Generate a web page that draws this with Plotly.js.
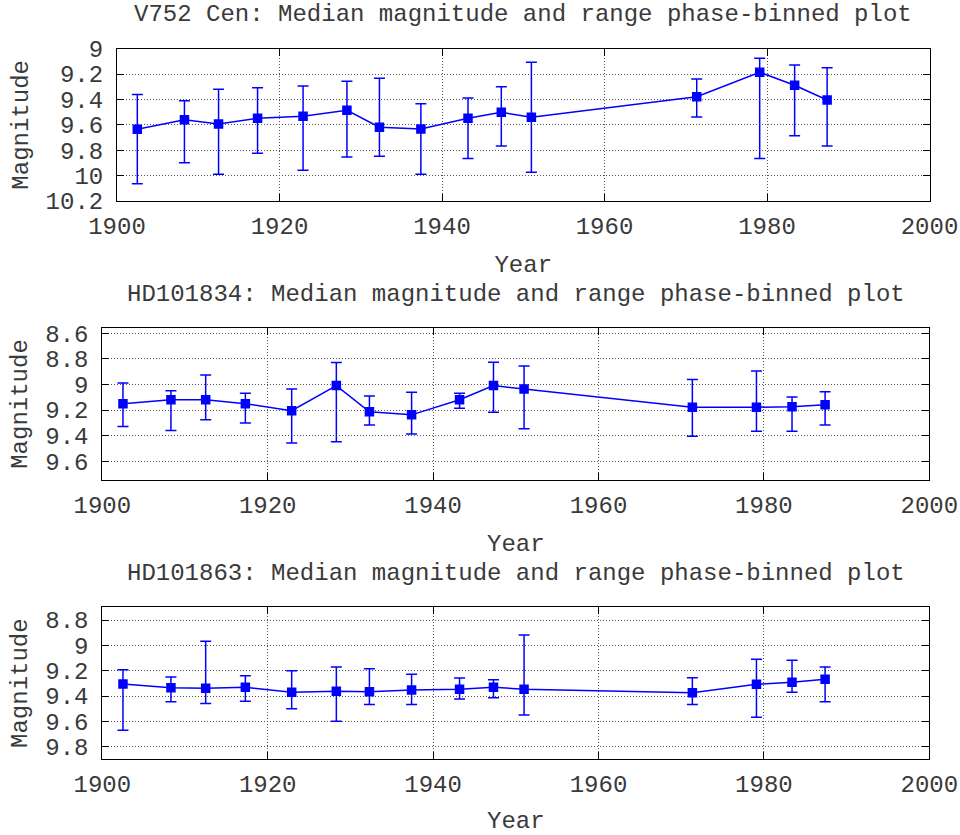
<!DOCTYPE html>
<html>
<head>
<meta charset="utf-8">
<script src="https://cdn.plot.ly/plotly-3.0.1.min.js"></script>
<style>html,body{margin:0;padding:0;background:#fff;}#chart{width:960px;height:835px;}</style>
</head>
<body>
<div id="chart"></div>
<script>
// Years (bin centres) shared by the three stars
var years = [1902.5, 1908.3, 1912.5, 1917.3, 1922.9, 1928.3, 1932.3, 1937.4, 1943.2, 1947.3, 1951.0, 1971.35, 1979.1, 1983.4, 1987.4];

// V752 Cen
var v752Median = [9.635, 9.559, 9.593, 9.548, 9.532, 9.485, 9.619, 9.632, 9.548, 9.501, 9.540, 9.378, 9.186, 9.288, 9.404];
var v752Bright = [9.360, 9.410, 9.320, 9.307, 9.294, 9.257, 9.233, 9.433, 9.388, 9.299, 9.107, 9.239, 9.076, 9.128, 9.150];
var v752Faint  = [10.065, 9.898, 9.989, 9.824, 9.957, 9.853, 9.847, 9.989, 9.866, 9.766, 9.973, 9.538, 9.866, 9.685, 9.766];

// HD101834
var hd834Median = [9.151, 9.120, 9.120, 9.151, 9.206, 9.009, 9.214, 9.238, 9.120, 9.009, 9.036, 9.178, 9.178, 9.175, 9.159];
var hd834Bright = [8.989, 9.049, 8.926, 9.068, 9.036, 8.828, 9.091, 9.062, 9.068, 8.826, 8.855, 8.962, 8.894, 9.099, 9.057];
var hd834Faint  = [9.330, 9.361, 9.277, 9.301, 9.458, 9.448, 9.317, 9.387, 9.186, 9.217, 9.346, 9.406, 9.367, 9.367, 9.317];

// HD101863
var hd863Median = [9.305, 9.334, 9.339, 9.331, 9.371, 9.363, 9.366, 9.353, 9.347, 9.331, 9.347, 9.374, 9.308, 9.292, 9.268];
var hd863Bright = [9.192, 9.250, 8.968, 9.240, 9.200, 9.171, 9.184, 9.229, 9.258, 9.271, 8.918, 9.255, 9.110, 9.118, 9.171];
var hd863Faint  = [9.671, 9.445, 9.460, 9.442, 9.500, 9.600, 9.468, 9.468, 9.424, 9.413, 9.550, 9.468, 9.568, 9.371, 9.445];

var titles = [
  'V752 Cen: Median magnitude and range phase-binned plot',
  'HD101834: Median magnitude and range phase-binned plot',
  'HD101863: Median magnitude and range phase-binned plot'
];
var xTitle = 'Year';
var yTitle = 'Magnitude';

var W = 960, H = 835;
var FONT = 'Liberation Mono, Courier New, monospace';
var TXT = '#3a3a3a';
var BLUE = '#0000ff';

function makeTrace(med, bright, faint, xa, ya) {
  return {
    x: years, y: med, xaxis: xa, yaxis: ya,
    type: 'scatter', mode: 'lines+markers',
    line: {color: BLUE, width: 1.5},
    marker: {symbol: 'square', size: 9.5, color: BLUE},
    error_y: {
      type: 'data', symmetric: false,
      array: faint.map(function (f, i) { return f - med[i]; }),
      arrayminus: bright.map(function (b, i) { return med[i] - b; }),
      color: BLUE, thickness: 1.5, width: 5.5
    },
    showlegend: false, hoverinfo: 'x+y'
  };
}

var data = [
  makeTrace(v752Median, v752Bright, v752Faint, 'x', 'y'),
  makeTrace(hd834Median, hd834Bright, hd834Faint, 'x2', 'y2'),
  makeTrace(hd863Median, hd863Bright, hd863Faint, 'x3', 'y3')
];

// panel geometry in pixels
var panels = [
  {l: 117, r: 929.5, t: 48.7, b: 201, yr: [10.2, 9]},
  {l: 102.3, r: 929.3, t: 327.7, b: 480.3, yr: [9.75, 8.556]},
  {l: 102.3, r: 929.3, t: 607, b: 759.3, yr: [9.9, 8.697]}
];
var titleY = [14, 294, 573.5];

function xaxis(p, anchor) {
  return {
    domain: [p.l / W, p.r / W], anchor: anchor,
    range: [1900, 2000], dtick: 20, tick0: 1900,
    showline: true, linecolor: '#000', linewidth: 1, mirror: 'ticks',
    ticks: 'inside', ticklen: 7, tickcolor: '#000', tickwidth: 1,
    ticklabelstandoff: 3,
    showgrid: true, gridcolor: '#555', griddash: '1px,2px', gridwidth: 1,
    zeroline: false, automargin: false,
    tickfont: {family: FONT, size: 24, color: TXT},
    title: {text: xTitle, font: {family: FONT, size: 24, color: TXT}, standoff: 15}
  };
}
function yaxis(p, anchor) {
  return {
    domain: [1 - p.b / H, 1 - p.t / H], anchor: anchor,
    range: p.yr, dtick: 0.2, tick0: 0,
    showline: true, linecolor: '#000', linewidth: 1, mirror: 'ticks',
    ticks: 'inside', ticklen: 7, tickcolor: '#000', tickwidth: 1,
    ticklabelstandoff: 8,
    showgrid: true, gridcolor: '#555', griddash: '1px,2px', gridwidth: 1,
    zeroline: false, automargin: false,
    tickfont: {family: FONT, size: 24, color: TXT},
    title: {text: yTitle, font: {family: FONT, size: 24, color: TXT}, standoff: 10}
  };
}

var layout = {
  width: W, height: H,
  margin: {l: 0, r: 0, t: 0, b: 0},
  paper_bgcolor: '#fff', plot_bgcolor: '#fff',
  font: {family: FONT, size: 24, color: TXT},
  xaxis: xaxis(panels[0], 'y'), yaxis: yaxis(panels[0], 'x'),
  xaxis2: xaxis(panels[1], 'y2'), yaxis2: yaxis(panels[1], 'x2'),
  xaxis3: xaxis(panels[2], 'y3'), yaxis3: yaxis(panels[2], 'x3'),
  annotations: titles.map(function (t, i) {
    return {
      text: t, xref: 'paper', yref: 'paper',
      x: (panels[i].l + panels[i].r) / 2 / W, y: 1 - titleY[i] / H,
      xanchor: 'center', yanchor: 'middle', showarrow: false,
      font: {family: FONT, size: 24, color: TXT}
    };
  })
};

Plotly.newPlot('chart', data, layout, {displayModeBar: false, staticPlot: true});
</script>
</body>
</html>
